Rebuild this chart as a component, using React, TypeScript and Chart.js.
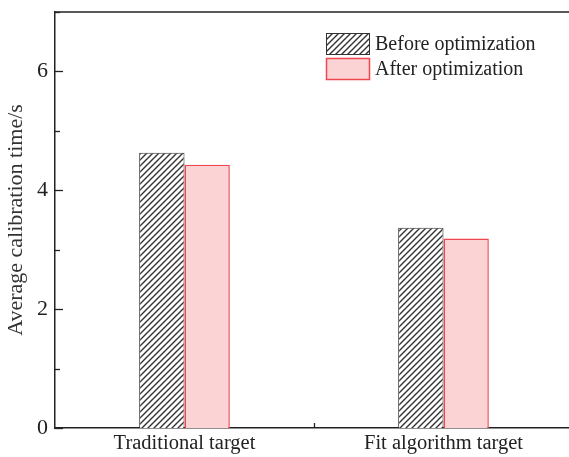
import React, { useEffect, useRef } from 'react';
import { Chart, registerables } from 'chart.js';

Chart.register(...registerables);

const categories = ['Traditional target', 'Fit algorithm target'];
const seriesNames = ['Before optimization', 'After optimization'];
const beforeValues = [4.63, 3.37];
const afterValues = [4.43, 3.19];
const yTickValues = [0, 2, 4, 6];
const yTitle = 'Average calibration time/s';

const FONT = "'Liberation Serif', 'Times New Roman', serif";
const AXIS_COLOR = '#222222';

function makeHatch(): CanvasPattern | string {
  const s = 6;
  const c = document.createElement('canvas');
  c.width = s;
  c.height = s;
  const ctx = c.getContext('2d');
  if (!ctx) return '#cccccc';
  ctx.fillStyle = '#ffffff';
  ctx.fillRect(0, 0, s, s);
  ctx.strokeStyle = '#333333';
  ctx.lineWidth = 1.4;
  ctx.beginPath();
  ctx.moveTo(-1, s + 1);
  ctx.lineTo(s + 1, -1);
  ctx.moveTo(-1, 1);
  ctx.lineTo(1, -1);
  ctx.moveTo(s - 1, s + 1);
  ctx.lineTo(s + 1, s - 1);
  ctx.stroke();
  return ctx.createPattern(c, 'repeat') || '#cccccc';
}

const framePlugin = {
  id: 'frameAndTicks',
  afterDraw(chart: any) {
    const { ctx, chartArea } = chart;
    const ys = chart.scales.y;
    const xs = chart.scales.x;
    ctx.save();
    ctx.strokeStyle = AXIS_COLOR;
    ctx.lineWidth = 1.5;
    // top frame line
    ctx.beginPath();
    ctx.moveTo(chartArea.left, chartArea.top);
    ctx.lineTo(chartArea.right, chartArea.top);
    ctx.stroke();
    // inward y ticks
    ctx.lineWidth = 1.3;
    ys.ticks.forEach((t: any) => {
      const py = Math.round(ys.getPixelForValue(t.value)) + 0.5;
      const len = yTickValues.includes(t.value) ? 8 : 5;
      ctx.beginPath();
      ctx.moveTo(chartArea.left, py);
      ctx.lineTo(chartArea.left + len, py);
      ctx.stroke();
    });
    // inward x ticks at category boundaries
    for (let i = 1; i < categories.length; i++) {
      const px = Math.round((xs.getPixelForValue(i - 1) + xs.getPixelForValue(i)) / 2) + 0.5;
      ctx.beginPath();
      ctx.moveTo(px, chartArea.bottom);
      ctx.lineTo(px, chartArea.bottom - 5);
      ctx.stroke();
    }
    ctx.restore();
  },
};

const legendPlugin = {
  id: 'boxLegend',
  afterDraw(chart: any) {
    const { ctx, chartArea } = chart;
    const boxW = 44;
    const boxH = 22;
    const x0 = chartArea.left + 271;
    let y0 = chartArea.top + 21;
    ctx.save();
    chart.data.datasets.forEach((ds: any) => {
      ctx.fillStyle = ds.backgroundColor;
      ctx.fillRect(x0, y0, boxW, boxH);
      ctx.strokeStyle = ds.borderColor;
      ctx.lineWidth = ds.borderWidth;
      ctx.strokeRect(x0 + 0.5, y0 + 0.5, boxW - 1, boxH - 1);
      ctx.fillStyle = '#222222';
      ctx.font = `20px ${FONT}`;
      ctx.textAlign = 'left';
      ctx.textBaseline = 'middle';
      ctx.fillText(ds.label, x0 + boxW + 5, y0 + boxH / 2 + 1);
      y0 += boxH + 3;
    });
    ctx.restore();
  },
};

export default function App() {
  const ref = useRef<HTMLCanvasElement | null>(null);

  useEffect(() => {
    if (!ref.current) return;
    const hatch = makeHatch();
    const chart = new Chart(ref.current, {
      type: 'bar',
      data: {
        labels: categories,
        datasets: [
          {
            label: seriesNames[0],
            data: beforeValues,
            backgroundColor: hatch as any,
            borderColor: '#333333',
            borderWidth: 1,
          },
          {
            label: seriesNames[1],
            data: afterValues,
            backgroundColor: '#fcd3d5',
            borderColor: '#f0474f',
            borderWidth: 1.5,
          },
        ],
      },
      options: {
        animation: false,
        responsive: false,
        devicePixelRatio: 1,
        layout: { padding: { left: 0, top: 12, right: 5, bottom: 0 } },
        datasets: {
          bar: { categoryPercentage: 0.35, barPercentage: 1 },
        },
        plugins: {
          legend: { display: false },
          tooltip: { enabled: false },
        },
        scales: {
          x: {
            grid: { display: false, drawTicks: false },
            border: { color: AXIS_COLOR, width: 1.5 },
            ticks: {
              color: '#222222',
              font: { family: FONT, size: 20.5 },
              padding: 3,
            },
            afterFit(scale: any) {
              scale.height = 29;
              scale.paddingLeft = 0;
              scale.paddingRight = 0;
            },
          },
          y: {
            min: 0,
            max: 7,
            grid: { display: false, drawTicks: false },
            border: { color: AXIS_COLOR, width: 1.5 },
            ticks: {
              stepSize: 1,
              color: '#222222',
              font: { family: FONT, size: 22 },
              padding: 7,
              callback: (v: any) => (yTickValues.includes(Number(v)) ? String(v) : ''),
            },
            title: {
              display: true,
              text: yTitle,
              color: '#333333',
              font: { family: FONT, size: 22 },
              padding: { top: 3, bottom: 0 },
            },
            afterFit(scale: any) {
              scale.width = 55;
              scale.paddingTop = 0;
              scale.paddingBottom = 0;
            },
          },
        },
      },
      plugins: [framePlugin, legendPlugin],
    });
    return () => chart.destroy();
  }, []);

  return (
    <div style={{ position: 'fixed', left: 0, top: 0, width: 578, height: 457, background: '#ffffff' }}>
      <canvas ref={ref} width={578} height={457} />
    </div>
  );
}
